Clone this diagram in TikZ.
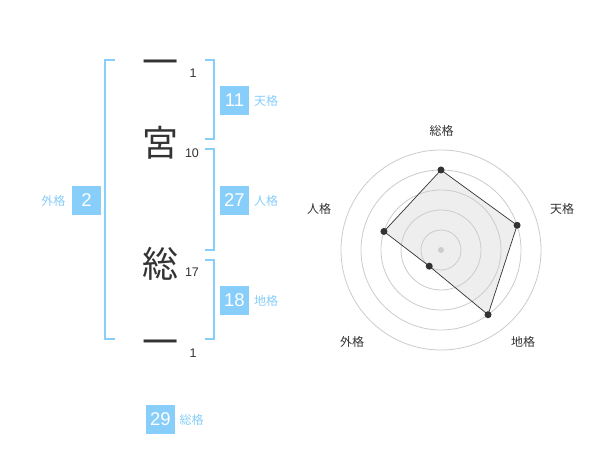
\documentclass[tikz,border=0pt]{standalone}
\usepackage{fontspec}
\setmainfont{Liberation Sans}
\newfontfamily\cjk{Noto Sans CJK JP}
\usetikzlibrary{calc}
\definecolor{skyb}{RGB}{135,206,250}
\definecolor{ink}{RGB}{51,51,51}
\definecolor{ringc}{RGB}{204,204,204}
\definecolor{polyfill}{RGB}{238,238,238}
\tikzset{
  brk/.style={draw=skyb, line width=2pt},
  kanji/.style={font=\cjk\fontsize{36}{36}\selectfont, text=ink, inner sep=0pt},
  stroke/.style={font=\fontsize{12.5}{12.5}\selectfont, text=ink, inner sep=0pt},
  valbox/.style={fill=skyb, text=white, minimum size=29pt, inner sep=0pt, font=\fontsize{18.5}{18.5}\selectfont},
  vallab/.style={text=skyb, inner sep=0pt, font=\cjk\fontsize{12}{12}\selectfont},
  ring/.style={draw=ringc, line width=0.8pt},
  radlab/.style={text=ink, inner sep=0pt, font=\cjk\fontsize{12}{12}\selectfont},
  dot/.style={circle, fill=ink, minimum size=7pt, inner sep=0pt},
}
\begin{document}
\begin{tikzpicture}[x=1pt,y=-1pt]
\useasboundingbox[fill=white] (0,0) rectangle (600,470);

% brackets
\draw[brk] (115,60) -- (105,60) -- (105,339) -- (115,339);
\draw[brk] (205,60) -- (214,60) -- (214,139) -- (205,139);
\draw[brk] (205,149) -- (214,149) -- (214,250) -- (205,250);
\draw[brk] (205,260) -- (214,260) -- (214,339) -- (205,339);

% name characters
\node[kanji] (k1) at (160,68) {一};
\node[kanji] (k2) at (160,143) {宮};
\node[kanji] (k3) at (160,264) {総};
\node[kanji] (k4) at (160,348) {一};

% stroke counts
\node[stroke] (n1) at (193,73) {1};
\node[stroke] (n2) at (192,153) {10};
\node[stroke] (n3) at (192,272) {17};
\node[stroke] (n4) at (193,353) {1};

% values
\node[valbox] (ten) at (234.5,100.5) {11};
\node[vallab] (tenl) at (266,101) {天格};
\node[valbox] (jin) at (234.5,200.5) {27};
\node[vallab] (jinl) at (266,201) {人格};
\node[valbox] (chi) at (234.5,300.5) {18};
\node[vallab] (chil) at (266,301) {地格};
\node[valbox] (gai) at (86.5,200.5) {2};
\node[vallab] (gail) at (53.5,201) {外格};
\node[valbox] (sou) at (160.5,419) {29};
\node[vallab] (soul) at (191.5,420) {総格};

% radar chart
\coordinate (c) at (441,250);
\coordinate (ps) at ($(c)+(-90:80)$);
\coordinate (pt) at ($(c)+(-18:80)$);
\coordinate (pc) at ($(c)+(54:80)$);
\coordinate (pg) at ($(c)+(126:20)$);
\coordinate (pj) at ($(c)+(198:60)$);
\fill[polyfill] (ps) -- (pt) -- (pc) -- (pg) -- (pj) -- cycle;
\foreach \r in {20,40,60,80,100} \draw[ring] (c) circle[radius=\r];
\draw[draw=ink, line width=0.7pt] (ps) -- (pt) -- (pc) -- (pg) -- (pj) -- cycle;
\fill[ringc] (c) circle[radius=3];
\foreach \p in {ps,pt,pc,pg,pj} \node[dot] at (\p) {};

\node[radlab] (ls) at (441.5,130.5) {総格};
\node[radlab] (lt) at (562,209) {天格};
\node[radlab] (lc) at (523,342) {地格};
\node[radlab] (lg) at (352,342) {外格};
\node[radlab] (lj) at (319,209) {人格};
\end{tikzpicture}
\end{document}
